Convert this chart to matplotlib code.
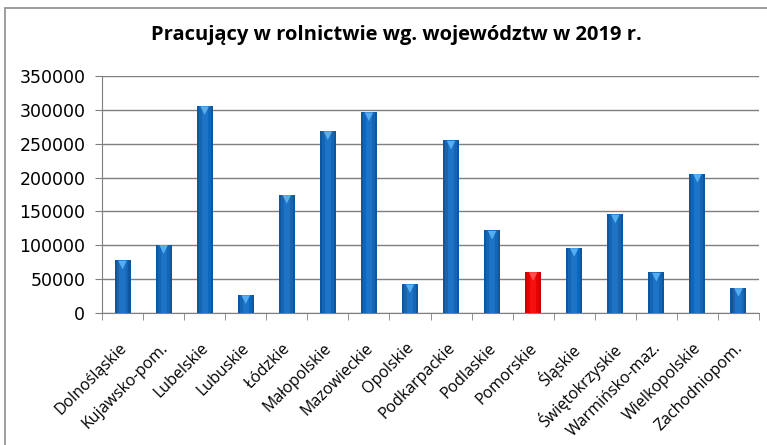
import numpy as np
import matplotlib.pyplot as plt
from matplotlib.patches import Rectangle
from matplotlib.transforms import ScaledTranslation, blended_transform_factory

# dane
wojewodztwa = ['Dolnośląskie', 'Kujawsko-pom.', 'Lubelskie', 'Lubuskie', 'Łódzkie',
               'Małopolskie', 'Mazowieckie', 'Opolskie', 'Podkarpackie', 'Podlaskie',
               'Pomorskie', 'Śląskie', 'Świętokrzyskie', 'Warmińsko-maz.',
               'Wielkopolskie', 'Zachodniopom.']
pracujacy = [78000, 101000, 306000, 27000, 175000, 269000, 297000, 43000,
             255000, 122000, 61000, 96500, 146000, 60000, 206000, 37500]
wyrozniony = 'Pomorskie'
y_ticks = [0, 50000, 100000, 150000, 200000, 250000, 300000, 350000]

# figura
fig = plt.figure(figsize=(7.67, 4.45), dpi=100)
fig.patches.append(Rectangle((5 / 767, -0.1), 1.1, 1.1 - 8 / 445, transform=fig.transFigure,
                             fill=False, edgecolor='#8c8c8c', linewidth=1.2))
ax = fig.add_axes([102 / 767, 1 - 313 / 445, (759 - 102) / 767, (313 - 76) / 445])

x = np.arange(len(wojewodztwa))
czerwony = [w == wyrozniony for w in wojewodztwa]

# slupki - kilka warstw dla efektu cieniowania
ax.bar(x, pracujacy, width=0.39, color=['#cc0000' if c else '#0d56a0' for c in czerwony],
       linewidth=0, zorder=3)
ax.bar(x, pracujacy, width=0.29, color=['#e80000' if c else '#1466b5' for c in czerwony],
       linewidth=0, zorder=3)
ax.bar(x, pracujacy, width=0.15, color=['#f51010' if c else '#1d74c6' for c in czerwony],
       linewidth=0, zorder=3)

# trojkatny "daszek" na gorze slupka
przesun = ax.transData + ScaledTranslation(0, -3.5 / 72, fig.dpi_scale_trans)
ax.scatter(x, pracujacy, marker='v', s=38, transform=przesun,
           c=['#ff5050' if c else '#55aef0' for c in czerwony], linewidths=0, zorder=4)

# osie
ax.set_xlim(-0.5, len(wojewodztwa) - 0.5)
ax.set_ylim(0, 350000)
ax.set_yticks(y_ticks)
ax.set_yticklabels([str(v) for v in y_ticks], fontsize=12.5, family='DejaVu Sans')
ax.yaxis.grid(True, color='#7f7f7f', linewidth=1.0, zorder=0)
ax.set_axisbelow(True)

# etykiety wojewodztw pod katem 45 stopni
ax.set_xticks(x)
ax.set_xticklabels([])
ax.tick_params(axis='x', length=0)
ax.set_xticks(np.arange(-0.5, len(wojewodztwa)), minor=True)
ax.tick_params(axis='x', which='minor', length=5, color='#7f7f7f')
ax.tick_params(axis='y', length=5, color='#7f7f7f', pad=7)
tr = blended_transform_factory(ax.transData, ax.transAxes) \
    + ScaledTranslation(-4 / 100, -27 / 100, fig.dpi_scale_trans)
for xi, w in zip(x, wojewodztwa):
    ax.text(xi, 0, w, transform=tr, rotation=45, ha='right', va='top',
            rotation_mode='anchor', fontsize=11.5, family='Open Sans', clip_on=False)

for s in ['top', 'right']:
    ax.spines[s].set_visible(False)
for s in ['left', 'bottom']:
    ax.spines[s].set_color('#7f7f7f')

fig.text(396 / 767, 1 - 35 / 445, 'Pracujący w rolnictwie wg. województw w 2019 r.',
         ha='center', va='center', fontsize=14.5, fontweight='bold', family='Open Sans')

fig.savefig('out.png', dpi=100)
